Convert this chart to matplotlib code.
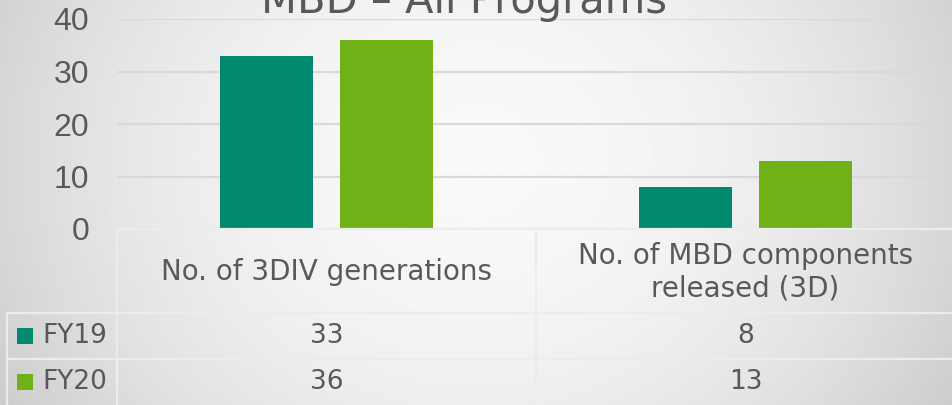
import numpy as np
import matplotlib
matplotlib.use("Agg")
import matplotlib.pyplot as plt
from matplotlib.lines import Line2D
from matplotlib.patches import Rectangle
from matplotlib import transforms

# ---- data ----
categories = ["No. of 3DIV generations", "No. of MBD components\nreleased (3D)"]
series_names = ["FY19", "FY20"]
fy19 = [33, 8]
fy20 = [36, 13]
yticks = [0, 10, 20, 30, 40]
title = "MBD \u2013 All Programs"

# ---- style ----
c19 = "#00896F"
c20 = "#6FB116"
txt = "#595959"
gridc = "#d9d9d9"
linec = "#ececec"
plt.rcParams['font.family'] = ['DejaVu Sans']
narrow = ['Liberation Sans Narrow', 'Liberation Sans', 'DejaVu Sans']

W, H = 952, 405
fig = plt.figure(figsize=(W / 100, H / 100), dpi=100)

def fx(px):
    return px / W

def fy(py):
    return 1 - py / H

# background radial gradient
bg = fig.add_axes([0, 0, 1, 1], zorder=-10)
yy, xx = np.mgrid[0:1:200j, 0:1:400j]
r2 = ((xx - 0.5) / 0.62) ** 2 + ((yy - 0.4) / 1.3) ** 2
img = 0.975 - 0.2 * r2
bg.imshow(img, cmap='gray', vmin=0, vmax=1, aspect='auto',
          extent=[0, 1, 0, 1], origin='upper', interpolation='bilinear')
bg.axis('off')

# chart axes
ax = fig.add_axes([fx(117), fy(229), fx(955) - fx(117), fy(19) - fy(229)])
ax.patch.set_alpha(0)
x = np.arange(len(categories))
w = 0.222
off = 0.1425
ax.bar(x - off, fy19, w, color=c19, zorder=3)
ax.bar(x + off, fy20, w, color=c20, zorder=3)
ax.set_xlim(-0.5, 1.5)
ax.set_ylim(0, 40)
ax.set_yticks(yticks)
ax.set_xticks([])
ax.grid(axis='y', color=gridc, lw=1.6, zorder=0)
for s in ax.spines.values():
    s.set_visible(False)
ax.tick_params(axis='y', length=0, pad=20, labelcolor=txt)
ax.set_yticklabels([str(v) for v in yticks], ha='right',
                   fontsize=23, family=narrow)

# title (cut off at the top, as in the reference)
fig.text(fx(464), fy(13), title, ha='center', va='baseline', fontsize=30, color=txt)

# ---- data table ----
def hline(y, x0, x1):
    fig.add_artist(Line2D([fx(x0), fx(x1)], [fy(y), fy(y)], color=linec, lw=1.6))

def vline(x, y0, y1):
    fig.add_artist(Line2D([fx(x), fx(x)], [fy(y0), fy(y1)], color=linec, lw=1.6))

hline(229, 117, 952)
hline(313, 7, 952)
hline(359, 7, 952)
vline(117, 229, 405)
vline(536, 229, 405)
vline(7, 313, 405)

tr = transforms.blended_transform_factory(ax.transData, fig.transFigure)
for i, cat in enumerate(categories):
    ax.text(x[i], fy(272), cat, transform=tr, ha='center', va='center',
            fontsize=20, color=txt, linespacing=1.2)
rows_y = [336, 382]
for vals, ry in zip([fy19, fy20], rows_y):
    for i, v in enumerate(vals):
        ax.text(x[i], fy(ry), str(v), transform=tr, ha='center', va='center',
                fontsize=19, color=txt)

for name, col, ry in zip(series_names, [c19, c20], rows_y):
    fig.add_artist(Rectangle((fx(17), fy(ry + 8)), fx(16), 16 / H,
                             facecolor=col, edgecolor='none'))
    fig.text(fx(42), fy(ry), name, ha='left', va='center', fontsize=19, color=txt)

fig.savefig("out.png", dpi=100)
